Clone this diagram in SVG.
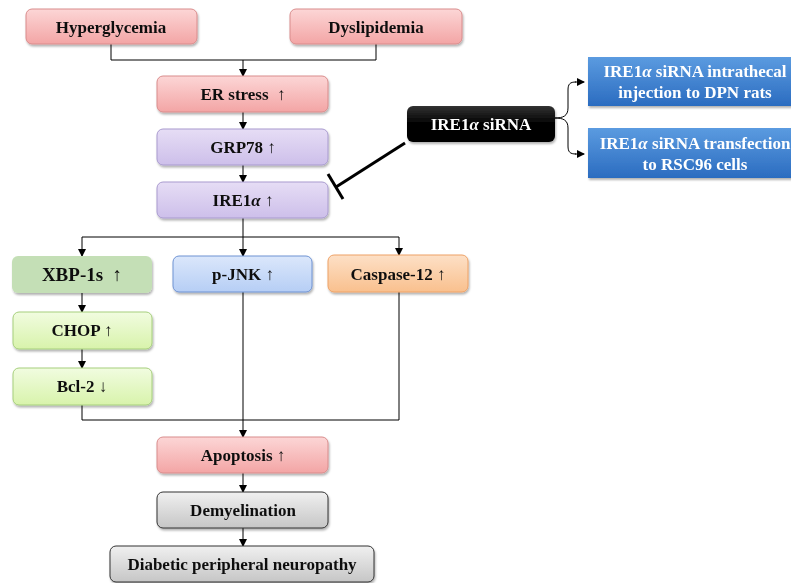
<svg xmlns="http://www.w3.org/2000/svg" width="791" height="583" viewBox="0 0 791 583">
<defs>
<linearGradient id="gPink" x1="0" y1="0" x2="0" y2="1"><stop offset="0" stop-color="#fcd6d6"/><stop offset="1" stop-color="#f3a5a5"/></linearGradient>
<linearGradient id="gPurple" x1="0" y1="0" x2="0" y2="1"><stop offset="0" stop-color="#e6ddf5"/><stop offset="1" stop-color="#cdbfea"/></linearGradient>
<linearGradient id="gLime" x1="0" y1="0" x2="0" y2="1"><stop offset="0" stop-color="#f1fce0"/><stop offset="1" stop-color="#d8f3ab"/></linearGradient>
<linearGradient id="gBlueL" x1="0" y1="0" x2="0" y2="1"><stop offset="0" stop-color="#dbe7fb"/><stop offset="1" stop-color="#b6cef5"/></linearGradient>
<linearGradient id="gOrange" x1="0" y1="0" x2="0" y2="1"><stop offset="0" stop-color="#fde0c6"/><stop offset="1" stop-color="#f9c08e"/></linearGradient>
<linearGradient id="gGray" x1="0" y1="0" x2="0" y2="1"><stop offset="0" stop-color="#f0f0f0"/><stop offset="1" stop-color="#c6c6c6"/></linearGradient>
<linearGradient id="gBlue" x1="0" y1="0" x2="0" y2="1"><stop offset="0" stop-color="#5b9be0"/><stop offset="1" stop-color="#2b6cc0"/></linearGradient>
<linearGradient id="gBlack" x1="0" y1="0" x2="0" y2="1"><stop offset="0" stop-color="#333"/><stop offset="0.5" stop-color="#000"/><stop offset="1" stop-color="#000"/></linearGradient>
<marker id="arr" markerWidth="8" markerHeight="8" refX="7" refY="4" orient="auto" markerUnits="userSpaceOnUse"><path d="M0,0 L8,4 L0,8 z" fill="#000"/></marker>
<filter id="sh" x="-10%" y="-10%" width="130%" height="140%"><feDropShadow dx="1" dy="2" stdDeviation="1.2" flood-color="#000" flood-opacity="0.3"/></filter>
</defs>
<style>
text{font-family:"Liberation Serif","Times New Roman",serif;font-weight:bold;font-size:17px;text-anchor:middle;fill:#111;white-space:pre}
.box{filter:url(#sh)}
.pink{fill:url(#gPink);stroke:#d98c8c;stroke-width:1}
.purple{fill:url(#gPurple);stroke:#a99bcf;stroke-width:1}
.lime{fill:url(#gLime);stroke:#a6cf7c;stroke-width:1}
.green{fill:#c4dfb6}
.bluel{fill:url(#gBlueL);stroke:#6f93d3;stroke-width:1}
.orange{fill:url(#gOrange);stroke:#eea267;stroke-width:1}
.gray{fill:url(#gGray);stroke:#333;stroke-width:1}
.blue{fill:url(#gBlue)}
.black{fill:url(#gBlack)}
.w{fill:#fff}
.ln{fill:none;stroke:#000;stroke-width:1}
.arrow{fill:none;stroke:#000;stroke-width:1;marker-end:url(#arr)}
</style>

<g id="connectors">
<path class="ln" d="M111,44 V60 H376 V44"/>
<path class="arrow" d="M243,60 V76"/>
<path class="arrow" d="M243,112 V129"/>
<path class="arrow" d="M243,165 V182"/>
<path class="ln" d="M243,218 V237"/>
<path class="ln" d="M82,237 H399"/>
<path class="arrow" d="M82,237 V256"/>
<path class="arrow" d="M243,237 V256"/>
<path class="arrow" d="M399,237 V255"/>
<path class="arrow" d="M82,293 V312"/>
<path class="arrow" d="M82,349 V368"/>
<path class="ln" d="M82,405 V420 H399 V292"/>
<path class="ln" d="M243,292 V420"/>
<path class="arrow" d="M243,420 V437"/>
<path class="arrow" d="M243,473 V492"/>
<path class="arrow" d="M243,528 V546"/>
<path class="ln" d="M405,143 L336,187" style="stroke-width:3"/>
<path class="ln" d="M328,174 L343,199" style="stroke-width:3"/>
<path class="ln" d="M555,118 C563,118 568,116 568,108 V90 C568,84 570,82 576,82" />
<path class="arrow" d="M575,82 H584"/>
<path class="ln" d="M555,118 C563,118 568,120 568,128 V146 C568,152 570,154 576,154" />
<path class="arrow" d="M575,154 H584"/>
</g>

<g id="hyperglycemia" class="box"><rect class="pink" x="26" y="9" width="171" height="35" rx="6"/><text x="111" y="33">Hyperglycemia</text></g>
<g id="dyslipidemia" class="box"><rect class="pink" x="290" y="9" width="172" height="35" rx="6"/><text x="376" y="33">Dyslipidemia</text></g>
<g id="er-stress" class="box"><rect class="pink" x="157" y="76" width="171" height="36" rx="6"/><text x="243" y="100">ER stress  ↑</text></g>
<g id="grp78" class="box"><rect class="purple" x="157" y="129" width="171" height="36" rx="6"/><text x="243" y="153">GRP78 ↑</text></g>
<g id="ire1a" class="box"><rect class="purple" x="157" y="182" width="171" height="36" rx="6"/><text x="243" y="206">IRE1<tspan font-style="italic">α</tspan> ↑</text></g>
<g id="xbp1s" class="box"><rect class="green" x="12" y="256" width="140" height="37" rx="6"/><text x="82" y="281" style="font-size:19px">XBP-1s  ↑</text></g>
<g id="pjnk" class="box"><rect class="bluel" x="173" y="256" width="139" height="36" rx="6"/><text x="243" y="280">p-JNK ↑</text></g>
<g id="caspase12" class="box"><rect class="orange" x="328" y="255" width="140" height="37" rx="6"/><text x="398" y="280">Caspase-12 ↑</text></g>
<g id="chop" class="box"><rect class="lime" x="13" y="312" width="139" height="37" rx="6"/><text x="82" y="336">CHOP ↑</text></g>
<g id="bcl2" class="box"><rect class="lime" x="13" y="368" width="139" height="37" rx="6"/><text x="82" y="392">Bcl-2 ↓</text></g>
<g id="apoptosis" class="box"><rect class="pink" x="157" y="437" width="171" height="36" rx="6"/><text x="243" y="461">Apoptosis ↑</text></g>
<g id="demyelination" class="box"><rect class="gray" x="157" y="492" width="171" height="36" rx="6"/><text x="243" y="516">Demyelination</text></g>
<g id="dpn" class="box"><rect class="gray" x="110" y="546" width="264" height="36" rx="6"/><text x="242" y="570">Diabetic peripheral neuropathy</text></g>
<g id="ire1a-sirna" class="box"><rect class="black" x="407" y="106" width="148" height="36" rx="6"/><text class="w" x="481" y="130">IRE1<tspan font-style="italic">α</tspan> siRNA</text></g>
<g id="intrathecal" class="box"><rect class="blue" x="588" y="57" width="205" height="49"/><text class="w" x="695" y="77">IRE1<tspan font-style="italic">α</tspan> siRNA intrathecal</text><text class="w" x="695" y="98">injection to DPN rats</text></g>
<g id="transfection" class="box"><rect class="blue" x="588" y="128" width="205" height="50"/><text class="w" x="695" y="149">IRE1<tspan font-style="italic">α</tspan> siRNA transfection</text><text class="w" x="695" y="170">to RSC96 cells</text></g>
</svg>
